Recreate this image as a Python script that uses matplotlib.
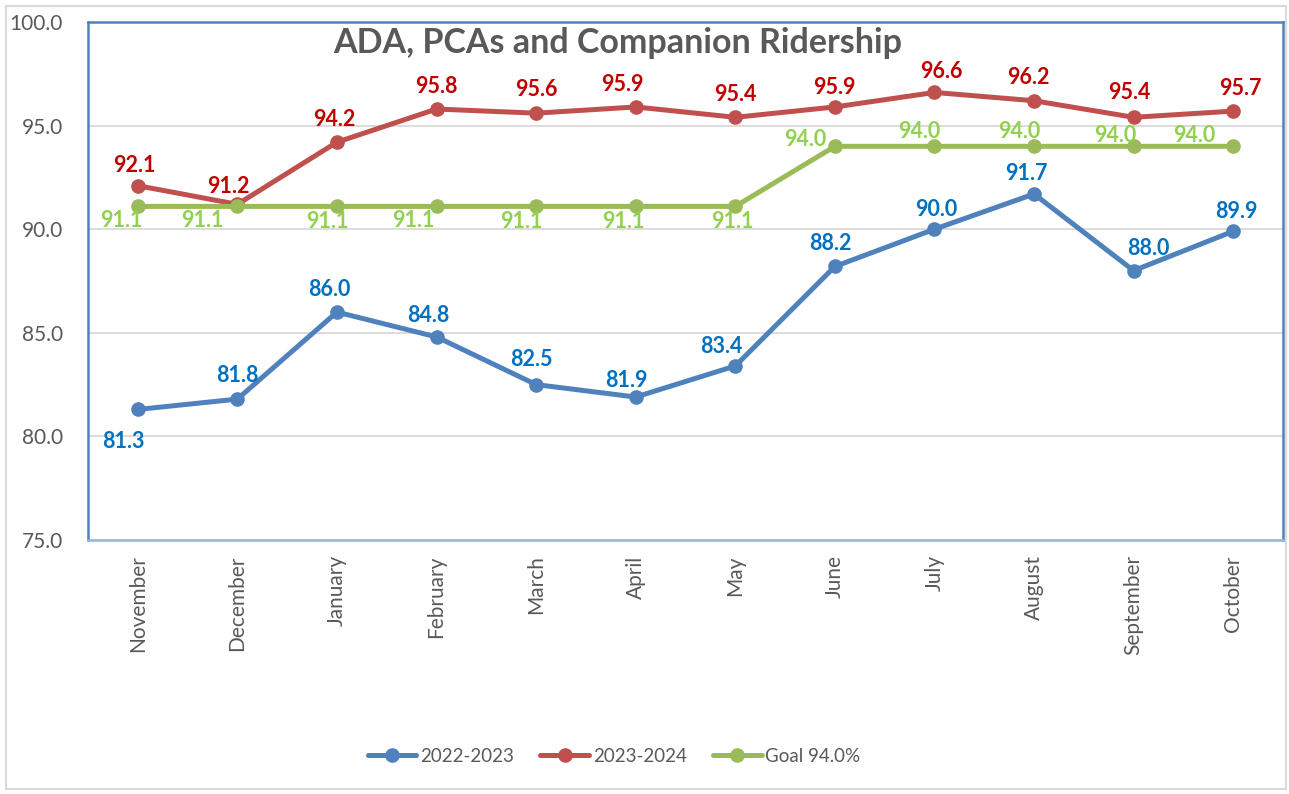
import matplotlib
matplotlib.use("Agg")
import matplotlib.pyplot as plt
from matplotlib.patches import Rectangle

plt.rcParams['font.family'] = ['Lato', 'DejaVu Sans']

months = ["November", "December", "January", "February", "March", "April",
          "May", "June", "July", "August", "September", "October"]
fy2223 = [81.3, 81.8, 86.0, 84.8, 82.5, 81.9, 83.4, 88.2, 90.0, 91.7, 88.0, 89.9]
fy2324 = [92.1, 91.2, 94.2, 95.8, 95.6, 95.9, 95.4, 95.9, 96.6, 96.2, 95.4, 95.7]
goal = [91.1, 91.1, 91.1, 91.1, 91.1, 91.1, 91.1, 94.0, 94.0, 94.0, 94.0, 94.0]
series_names = ["2022-2023", "2023-2024", "Goal 94.0%"]
title = "ADA, PCAs and Companion Ridership"
y_ticks = [75, 80, 85, 90, 95, 100]

# label offsets in pixels (dx, dy; dy positive = down)
off_blue = [(-14, 32), (0, -24), (-8, -23), (-8, -21), (-5, -25), (-9, -17),
            (-14, -19), (-4, -23), (2, -20), (-8, -20), (15, -22), (3, -20)]
off_red = [(-3, -20), (-9, -18), (-3, -23), (0, -23), (0, -24), (-13, -22),
           (0, -23), (0, -19), (7, -21), (-6, -23), (-4, -25), (7, -23)]
off_green = [(-16, 14), (-35, 14), (-10, 15), (-23, 14), (-15, 15), (-12, 15),
             (-3, 15), (-30, -7), (-15, -15), (-15, -15), (-18, -11), (-39, -11)]

W, H = 1289, 794
fig = plt.figure(figsize=(W / 100, H / 100), dpi=100)
ax = fig.add_axes([88 / W, 1 - 540 / H, (1283 - 88) / W, (540 - 22) / H])

c_blue, c_red, c_green = "#4F81BD", "#C0504D", "#9BBB59"
l_blue, l_red, l_green = "#0070C0", "#C00000", "#92D050"
gray = "#595959"

x = list(range(len(months)))
lw, ms = 3.6, 9.5
ax.plot(x, fy2223, color=c_blue, lw=lw, marker='o', ms=ms, label=series_names[0], zorder=3,
        solid_capstyle='round')
ax.plot(x, fy2324, color=c_red, lw=lw, marker='o', ms=ms, label=series_names[1], zorder=4,
        solid_capstyle='round')
ax.plot(x, goal, color=c_green, lw=lw, marker='o', ms=ms, label=series_names[2], zorder=5,
        solid_capstyle='round')

def labels(vals, offs, color):
    for i, (v, (dx, dy)) in enumerate(zip(vals, offs)):
        ax.annotate(f"{v:.1f}", (i, v), xytext=(dx * 0.72, -dy * 0.72),
                    textcoords='offset points', ha='center', va='center',
                    color=color, fontsize=15.5, fontweight='bold', zorder=10)

labels(fy2223, off_blue, l_blue)
labels(fy2324, off_red, l_red)
labels(goal, off_green, l_green)

ax.set_xlim(-0.5, len(months) - 0.5)
ax.set_ylim(75, 100)
ax.set_yticks(y_ticks)
ax.set_yticklabels([f"{t:.1f}" for t in y_ticks])
ax.set_xticks(x)
ax.set_xticklabels(months, rotation=90)
ax.tick_params(axis='y', length=0, pad=18, labelsize=15, labelcolor=gray)
ax.tick_params(axis='x', length=0, pad=11, labelsize=15, labelcolor=gray)
ax.grid(axis='y', color="#D9D9D9", lw=1.3, zorder=0)
ax.set_axisbelow(True)
for s in ['left', 'top', 'right']:
    ax.spines[s].set_color(c_blue)
    ax.spines[s].set_linewidth(1.8)
ax.spines['bottom'].set_color("#9DB5D6")
ax.spines['bottom'].set_linewidth(1.8)

fig.text(618 / W, 1 - 53 / H, title, ha='center', va='baseline',
         fontsize=24.5, fontweight='bold', color=gray)

leg = fig.legend(loc='center', bbox_to_anchor=(614 / W, 1 - 756 / H), ncol=3,
                 frameon=False, fontsize=13.5, handlelength=2.6, handletextpad=0.2,
                 columnspacing=1.4, labelcolor=gray)

fig.patches.append(Rectangle((6 / W, 1 - 789 / H), (1286 - 6) / W, (789 - 6) / H,
                             transform=fig.transFigure, fill=False,
                             edgecolor="#D9D9D9", lw=1.5, zorder=0))

fig.savefig("out.png", dpi=100)
